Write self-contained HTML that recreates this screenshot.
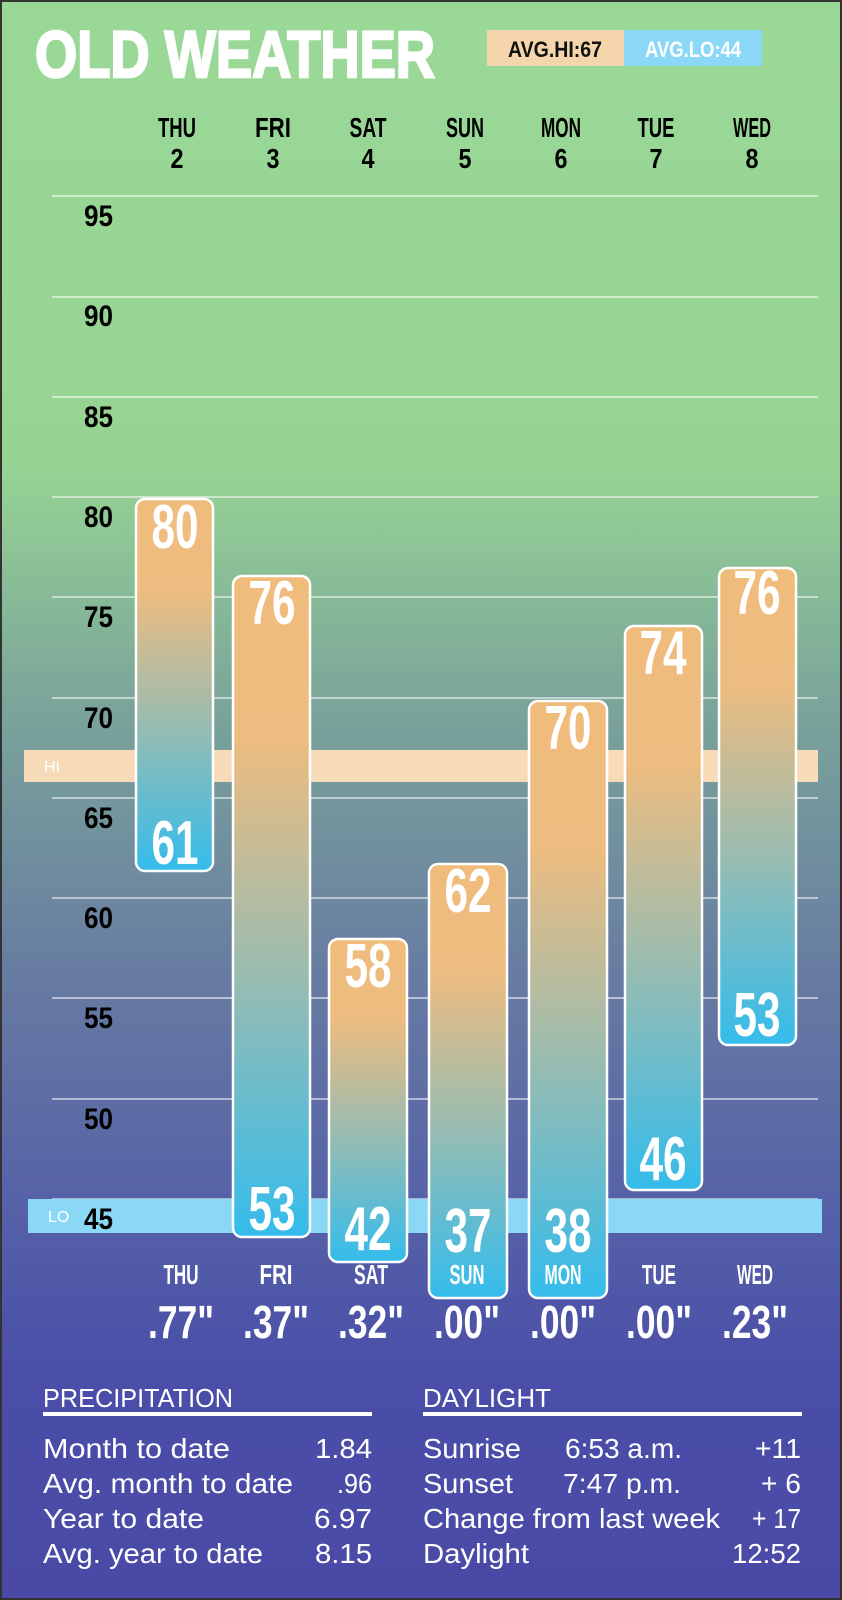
<!DOCTYPE html>
<html><head><meta charset="utf-8"><style>
html,body{margin:0;padding:0;background:#fff}
svg{display:block}
text{font-family:"Liberation Sans Narrow","Liberation Sans",sans-serif}
</style></head><body>
<svg width="842" height="1600" viewBox="0 0 842 1600" xmlns="http://www.w3.org/2000/svg">
<defs>
<linearGradient id="bg" x1="0" y1="0" x2="0" y2="1600" gradientUnits="userSpaceOnUse">
<stop offset="0" stop-color="#9ad897"/>
<stop offset="0.29" stop-color="#97d494"/>
<stop offset="0.44" stop-color="#7ba59a"/>
<stop offset="0.62" stop-color="#6679a2"/>
<stop offset="0.76" stop-color="#5560a8"/>
<stop offset="0.86" stop-color="#4a4ea8"/>
<stop offset="1" stop-color="#4a4aa6"/>
</linearGradient>
<linearGradient id="bar" x1="0" y1="0" x2="0" y2="1">
<stop offset="0" stop-color="#f0bc7c"/>
<stop offset="0.25" stop-color="#ecbc80"/>
<stop offset="0.6" stop-color="#9abcb0"/>
<stop offset="1" stop-color="#34bcec"/>
</linearGradient>
</defs>
<rect x="0" y="0" width="842" height="1600" fill="url(#bg)"/>
<rect x="1" y="1" width="840" height="1598" fill="none" stroke="#333" stroke-width="2"/>

<text x="35" y="77" font-size="66" font-weight="bold" fill="#fff" stroke="#fff" stroke-width="2.5" textLength="400" lengthAdjust="spacingAndGlyphs">OLD WEATHER</text>
<rect x="487" y="30" width="137" height="36" fill="#f5d5ab"/>
<rect x="624" y="30" width="138" height="36" fill="#8ad8f5"/>
<text x="555" y="57" font-size="22" font-weight="bold" fill="#111" text-anchor="middle" textLength="94" lengthAdjust="spacingAndGlyphs">AVG.HI:67</text>
<text x="693" y="57" font-size="22" font-weight="bold" fill="#fff" text-anchor="middle" textLength="96" lengthAdjust="spacingAndGlyphs">AVG.LO:44</text>

<g font-size="28" font-weight="bold" fill="#000" text-anchor="middle">
<text x="177" y="137" textLength="38" lengthAdjust="spacingAndGlyphs">THU</text><text x="177" y="168" textLength="13" lengthAdjust="spacingAndGlyphs">2</text>
<text x="273" y="137" textLength="36" lengthAdjust="spacingAndGlyphs">FRI</text><text x="273" y="168" textLength="13" lengthAdjust="spacingAndGlyphs">3</text>
<text x="368" y="137" textLength="37" lengthAdjust="spacingAndGlyphs">SAT</text><text x="368" y="168" textLength="13" lengthAdjust="spacingAndGlyphs">4</text>
<text x="465" y="137" textLength="38" lengthAdjust="spacingAndGlyphs">SUN</text><text x="465" y="168" textLength="13" lengthAdjust="spacingAndGlyphs">5</text>
<text x="561" y="137" textLength="40" lengthAdjust="spacingAndGlyphs">MON</text><text x="561" y="168" textLength="13" lengthAdjust="spacingAndGlyphs">6</text>
<text x="656" y="137" textLength="37" lengthAdjust="spacingAndGlyphs">TUE</text><text x="656" y="168" textLength="13" lengthAdjust="spacingAndGlyphs">7</text>
<text x="752" y="137" textLength="38" lengthAdjust="spacingAndGlyphs">WED</text><text x="752" y="168" textLength="13" lengthAdjust="spacingAndGlyphs">8</text>
</g>

<g stroke="#fff" stroke-opacity="0.7" stroke-width="1.5">
<line x1="52" y1="196" x2="818" y2="196"/>
<line x1="52" y1="297" x2="818" y2="297"/>
<line x1="52" y1="397" x2="818" y2="397"/>
<line x1="52" y1="497" x2="818" y2="497"/>
<line x1="52" y1="597" x2="818" y2="597"/>
<line x1="52" y1="698" x2="818" y2="698"/>
<line x1="52" y1="798" x2="818" y2="798"/>
<line x1="52" y1="898" x2="818" y2="898"/>
<line x1="52" y1="998" x2="818" y2="998"/>
<line x1="52" y1="1099" x2="818" y2="1099"/>
<line x1="52" y1="1199" x2="818" y2="1199"/>
</g>

<rect x="24" y="750" width="794" height="32" fill="#f7dbb8"/>
<text x="44" y="772" font-size="16" fill="#fff">HI</text>
<rect x="28" y="1199" width="794" height="34" fill="#8ad8f5"/>
<text x="48" y="1222" font-size="16" fill="#fff">LO</text>

<g font-size="30" font-weight="bold" fill="#000">
<text x="84" y="226" textLength="29" lengthAdjust="spacingAndGlyphs">95</text>
<text x="84" y="326" textLength="29" lengthAdjust="spacingAndGlyphs">90</text>
<text x="84" y="427" textLength="29" lengthAdjust="spacingAndGlyphs">85</text>
<text x="84" y="527" textLength="29" lengthAdjust="spacingAndGlyphs">80</text>
<text x="84" y="627" textLength="29" lengthAdjust="spacingAndGlyphs">75</text>
<text x="84" y="728" textLength="29" lengthAdjust="spacingAndGlyphs">70</text>
<text x="84" y="828" textLength="29" lengthAdjust="spacingAndGlyphs">65</text>
<text x="84" y="928" textLength="29" lengthAdjust="spacingAndGlyphs">60</text>
<text x="84" y="1028" textLength="29" lengthAdjust="spacingAndGlyphs">55</text>
<text x="84" y="1129" textLength="29" lengthAdjust="spacingAndGlyphs">50</text>
<text x="84" y="1229" textLength="29" lengthAdjust="spacingAndGlyphs">45</text>
</g>

<g stroke="#fff" stroke-width="2.5">
<rect x="136" y="499" width="77" height="372" rx="9" fill="url(#bar)"/>
<rect x="233" y="576" width="77" height="661" rx="9" fill="url(#bar)"/>
<rect x="329" y="939" width="78" height="323" rx="9" fill="url(#bar)"/>
<rect x="429" y="864" width="78" height="434" rx="9" fill="url(#bar)"/>
<rect x="529" y="701" width="78" height="597" rx="9" fill="url(#bar)"/>
<rect x="625" y="626" width="77" height="564" rx="9" fill="url(#bar)"/>
<rect x="719" y="568" width="77" height="477" rx="9" fill="url(#bar)"/>
</g>

<g font-size="62" font-weight="bold" fill="#fff" text-anchor="middle">
<text x="175" y="548" textLength="47" lengthAdjust="spacingAndGlyphs">80</text>
<text x="175" y="864" textLength="47" lengthAdjust="spacingAndGlyphs">61</text>
<text x="272" y="624" textLength="47" lengthAdjust="spacingAndGlyphs">76</text>
<text x="272" y="1230" textLength="47" lengthAdjust="spacingAndGlyphs">53</text>
<text x="368" y="987" textLength="47" lengthAdjust="spacingAndGlyphs">58</text>
<text x="368" y="1250" textLength="47" lengthAdjust="spacingAndGlyphs">42</text>
<text x="468" y="912" textLength="47" lengthAdjust="spacingAndGlyphs">62</text>
<text x="468" y="1252" textLength="47" lengthAdjust="spacingAndGlyphs">37</text>
<text x="568" y="749" textLength="47" lengthAdjust="spacingAndGlyphs">70</text>
<text x="568" y="1252" textLength="47" lengthAdjust="spacingAndGlyphs">38</text>
<text x="663" y="674" textLength="47" lengthAdjust="spacingAndGlyphs">74</text>
<text x="663" y="1180" textLength="47" lengthAdjust="spacingAndGlyphs">46</text>
<text x="757" y="614" textLength="47" lengthAdjust="spacingAndGlyphs">76</text>
<text x="757" y="1036" textLength="47" lengthAdjust="spacingAndGlyphs">53</text>
</g>

<g font-size="28" font-weight="bold" fill="#fff" text-anchor="middle">
<text x="181" y="1284" textLength="35" lengthAdjust="spacingAndGlyphs">THU</text>
<text x="276" y="1284" textLength="33" lengthAdjust="spacingAndGlyphs">FRI</text>
<text x="371" y="1284" textLength="34" lengthAdjust="spacingAndGlyphs">SAT</text>
<text x="467" y="1284" textLength="35" lengthAdjust="spacingAndGlyphs">SUN</text>
<text x="563" y="1284" textLength="37" lengthAdjust="spacingAndGlyphs">MON</text>
<text x="659" y="1284" textLength="34" lengthAdjust="spacingAndGlyphs">TUE</text>
<text x="755" y="1284" textLength="36" lengthAdjust="spacingAndGlyphs">WED</text>
</g>
<g font-size="46" font-weight="bold" fill="#fff" text-anchor="middle">
<text x="181" y="1338" textLength="66" lengthAdjust="spacingAndGlyphs">.77"</text>
<text x="276" y="1338" textLength="66" lengthAdjust="spacingAndGlyphs">.37"</text>
<text x="371" y="1338" textLength="66" lengthAdjust="spacingAndGlyphs">.32"</text>
<text x="467" y="1338" textLength="66" lengthAdjust="spacingAndGlyphs">.00"</text>
<text x="563" y="1338" textLength="66" lengthAdjust="spacingAndGlyphs">.00"</text>
<text x="659" y="1338" textLength="66" lengthAdjust="spacingAndGlyphs">.00"</text>
<text x="755" y="1338" textLength="66" lengthAdjust="spacingAndGlyphs">.23"</text>
</g>

<g fill="#fff" font-family="Liberation Sans, sans-serif">
<text x="43" y="1407" font-size="26" textLength="190" lengthAdjust="spacingAndGlyphs">PRECIPITATION</text>
<rect x="43" y="1412" width="329" height="4"/>
<text x="423" y="1407" font-size="26" textLength="128" lengthAdjust="spacingAndGlyphs">DAYLIGHT</text>
<rect x="423" y="1412" width="379" height="4"/>
<g font-size="28" lengthAdjust="spacingAndGlyphs">
<text x="43" y="1458" textLength="187" lengthAdjust="spacingAndGlyphs">Month to date</text><text x="372" y="1458" text-anchor="end" textLength="57" lengthAdjust="spacingAndGlyphs">1.84</text>
<text x="43" y="1493" textLength="250" lengthAdjust="spacingAndGlyphs">Avg. month to date</text><text x="372" y="1493" text-anchor="end" textLength="35" lengthAdjust="spacingAndGlyphs">.96</text>
<text x="43" y="1528" textLength="161" lengthAdjust="spacingAndGlyphs">Year to date</text><text x="372" y="1528" text-anchor="end" textLength="58" lengthAdjust="spacingAndGlyphs">6.97</text>
<text x="43" y="1563" textLength="220" lengthAdjust="spacingAndGlyphs">Avg. year to date</text><text x="372" y="1563" text-anchor="end" textLength="57" lengthAdjust="spacingAndGlyphs">8.15</text>
<text x="423" y="1458" textLength="98" lengthAdjust="spacingAndGlyphs">Sunrise</text><text x="565" y="1458" textLength="117" lengthAdjust="spacingAndGlyphs">6:53 a.m.</text><text x="801" y="1458" text-anchor="end" textLength="46" lengthAdjust="spacingAndGlyphs">+11</text>
<text x="423" y="1493" textLength="90" lengthAdjust="spacingAndGlyphs">Sunset</text><text x="563" y="1493" textLength="118" lengthAdjust="spacingAndGlyphs">7:47 p.m.</text><text x="801" y="1493" text-anchor="end" textLength="40" lengthAdjust="spacingAndGlyphs">+ 6</text>
<text x="423" y="1528" textLength="297" lengthAdjust="spacingAndGlyphs">Change from last week</text><text x="801" y="1528" text-anchor="end" textLength="49" lengthAdjust="spacingAndGlyphs">+ 17</text>
<text x="423" y="1563" textLength="106" lengthAdjust="spacingAndGlyphs">Daylight</text><text x="801" y="1563" text-anchor="end" textLength="69" lengthAdjust="spacingAndGlyphs">12:52</text>
</g>
</g>
</svg>
</body></html>
